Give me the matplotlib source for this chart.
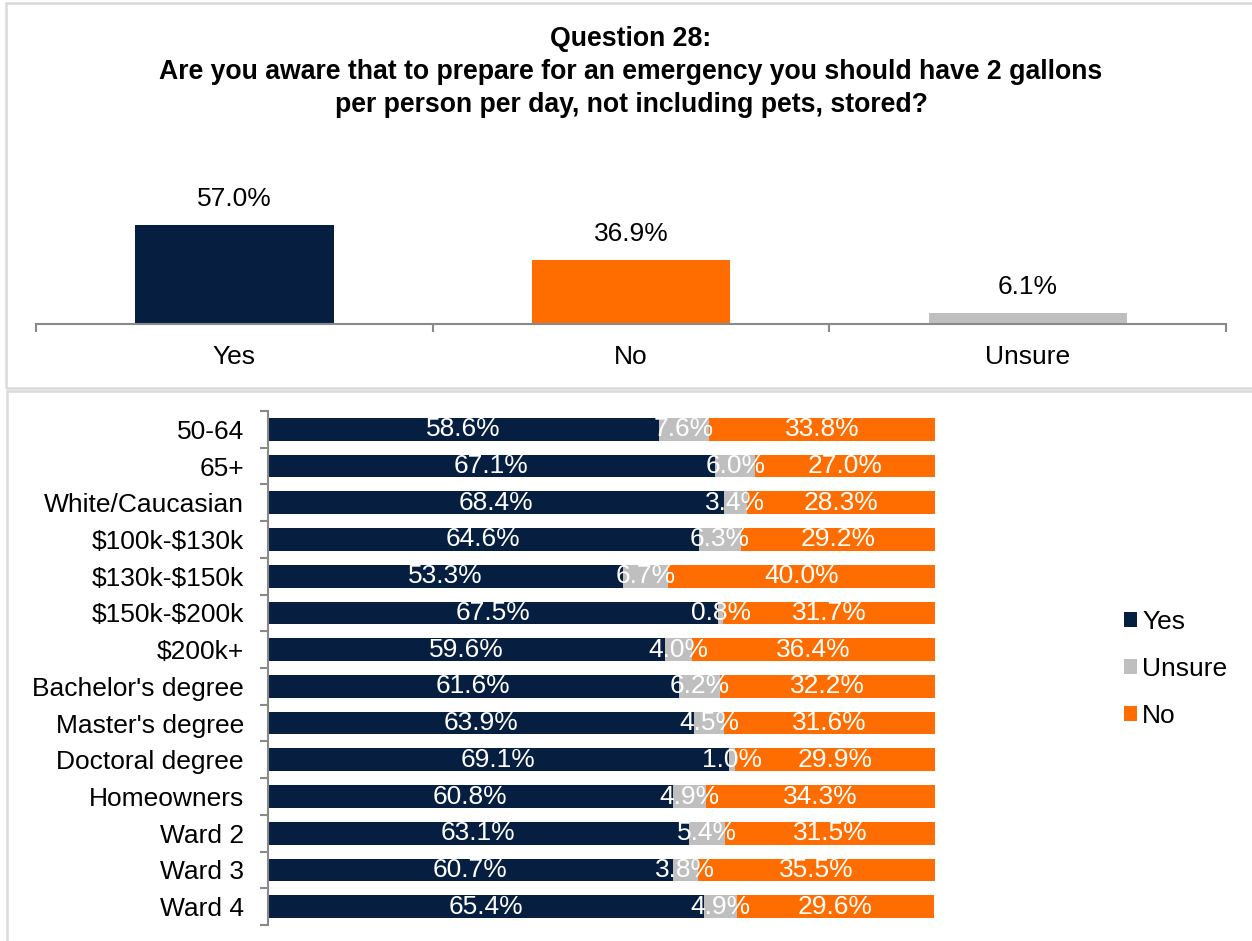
import numpy as np
import matplotlib
matplotlib.use("Agg")
import matplotlib.pyplot as plt
from matplotlib.patches import Rectangle

plt.rcParams['font.family'] = ['Liberation Sans', 'DejaVu Sans']

navy = "#061f41"
orange = "#ff6d00"
grey = "#bfbfbf"
axis_grey = "#898989"
box_grey = "#d9d9d9"

# overall answers
answers = ["Yes", "No", "Unsure"]
overall = [57.0, 36.9, 6.1]
overall_colors = [navy, orange, grey]

# breakdown by group
groups = ["50-64", "65+", "White/Caucasian", "$100k-$130k", "$130k-$150k",
          "$150k-$200k", "$200k+", "Bachelor's degree", "Master's degree",
          "Doctoral degree", "Homeowners", "Ward 2", "Ward 3", "Ward 4"]
yes = [58.6, 67.1, 68.4, 64.6, 53.3, 67.5, 59.6, 61.6, 63.9, 69.1, 60.8, 63.1, 60.7, 65.4]
unsure = [7.6, 6.0, 3.4, 6.3, 6.7, 0.8, 4.0, 6.2, 4.5, 1.0, 4.9, 5.4, 3.8, 4.9]
no = [33.8, 27.0, 28.3, 29.2, 40.0, 31.7, 36.4, 32.2, 31.6, 29.9, 34.3, 31.5, 35.5, 29.6]

W, H = 1252, 941
fs = 19
fig = plt.figure(figsize=(W / 100, H / 100), dpi=100)

def fx(px):
    return px / W

def fy(py):
    return 1 - py / H

# panel borders
fig.patches.append(Rectangle((fx(6), fy(388)), fx(1260) - fx(6), fy(3) - fy(388),
                             transform=fig.transFigure, fill=False,
                             edgecolor=box_grey, linewidth=1.8))
fig.patches.append(Rectangle((fx(7), fy(960)), fx(1260) - fx(7), fy(391) - fy(960),
                             transform=fig.transFigure, fill=False,
                             edgecolor=box_grey, linewidth=1.8))

# title
title_lines = ["Question 28:",
               "Are you aware that to prepare for an emergency you should have 2 gallons",
               "per person per day, not including pets, stored?"]
for line, base in zip(title_lines, [46, 79, 112]):
    fig.text(fx(631), fy(base), line, ha="center", va="baseline",
             fontsize=19.2, fontweight="bold", color="black")

# ---- top chart ----
ax1 = fig.add_axes([fx(36), fy(324), fx(1226) - fx(36), fy(150) - fy(324)])
x = np.arange(len(answers))
ax1.bar(x, overall, width=0.5, color=overall_colors)
for xi, v in zip(x, overall):
    ax1.text(xi, v + 15, f"{v:.1f}%", ha="center", va="center", fontsize=fs)
ax1.set_xlim(-0.5, len(answers) - 0.5)
ax1.set_ylim(0, 100)
for s in ["top", "right", "left"]:
    ax1.spines[s].set_visible(False)
ax1.spines["bottom"].set_color(axis_grey)
ax1.spines["bottom"].set_linewidth(1.5)
ax1.set_yticks([])
ax1.set_xticks(x)
ax1.set_xticklabels(answers, fontsize=fs)
ax1.set_xticks(np.arange(len(answers) + 1) - 0.5, minor=True)
ax1.tick_params(axis="x", which="major", length=0, pad=15)
ax1.tick_params(axis="x", which="minor", length=6, width=1.5, color=axis_grey, direction="out")

# ---- bottom chart ----
ax2 = fig.add_axes([fx(267.5), fy(925), fx(935) - fx(267.5), fy(411) - fy(925)])
y = np.arange(len(groups))
yes_a = np.array(yes)
uns_a = np.array(unsure)
no_a = np.array(no)
h = 0.62
b1 = ax2.barh(y, yes_a, height=h, color=navy, label="Yes")
b2 = ax2.barh(y, uns_a, left=yes_a, height=h, color=grey, label="Unsure")
b3 = ax2.barh(y, no_a, left=yes_a + uns_a, height=h, color=orange, label="No")
for bars, vals in [(b1, yes_a), (b2, uns_a), (b3, no_a)]:
    ax2.bar_label(bars, labels=[f"{v:.1f}%" for v in vals], label_type="center",
                  color="white", fontsize=fs)
ax2.set_xlim(0, 100)
ax2.set_ylim(len(groups) - 0.5, -0.5)
for s in ["top", "right", "bottom"]:
    ax2.spines[s].set_visible(False)
ax2.spines["left"].set_color(axis_grey)
ax2.spines["left"].set_linewidth(1.5)
ax2.set_xticks([])
ax2.set_yticks(y)
ax2.set_yticklabels([g.replace("$", r"\$") for g in groups], fontsize=fs)
ax2.set_yticks(np.arange(len(groups) + 1) - 0.5, minor=True)
ax2.tick_params(axis="y", which="major", length=0, pad=17)
ax2.tick_params(axis="y", which="minor", length=6, width=1.5, color=axis_grey, direction="out")

leg = fig.legend(handles=[b1, b2, b3], labels=["Yes", "Unsure", "No"],
                 loc="center left", bbox_to_anchor=(fx(1100), fy(669)),
                 frameon=False, fontsize=fs, handlelength=0.5, handleheight=0.5,
                 handletextpad=0.2, labelspacing=0.88)

fig.savefig("out.png", dpi=100)
